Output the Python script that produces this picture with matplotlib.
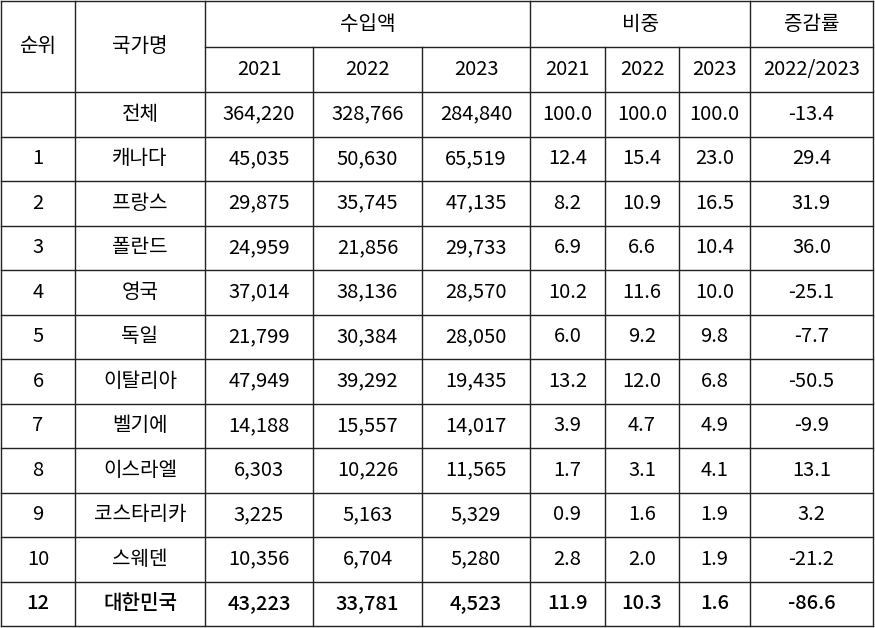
import matplotlib
matplotlib.use("Agg")
import matplotlib.pyplot as plt
from matplotlib import font_manager

names = {f.name for f in font_manager.fontManager.ttflist}
cands = ["Noto Sans CJK KR", "Noto Sans CJK JP", "Noto Sans CJK SC", "Noto Sans CJK TC"]
plt.rcParams["font.family"] = [n for n in cands if n in names] + ["DejaVu Sans"]

ranks = ["", "1", "2", "3", "4", "5", "6", "7", "8", "9", "10", "12"]
countries = ["전체", "캐나다", "프랑스", "폴란드", "영국", "독일", "이탈리아", "벨기에",
             "이스라엘", "코스타리카", "스웨덴", "대한민국"]
imp_2021 = [364220, 45035, 29875, 24959, 37014, 21799, 47949, 14188, 6303, 3225, 10356, 43223]
imp_2022 = [328766, 50630, 35745, 21856, 38136, 30384, 39292, 15557, 10226, 5163, 6704, 33781]
imp_2023 = [284840, 65519, 47135, 29733, 28570, 28050, 19435, 14017, 11565, 5329, 5280, 4523]
share_2021 = [100.0, 12.4, 8.2, 6.9, 10.2, 6.0, 13.2, 3.9, 1.7, 0.9, 2.8, 11.9]
share_2022 = [100.0, 15.4, 10.9, 6.6, 11.6, 9.2, 12.0, 4.7, 3.1, 1.6, 2.0, 10.3]
share_2023 = [100.0, 23.0, 16.5, 10.4, 10.0, 9.8, 6.8, 4.9, 4.1, 1.9, 1.9, 1.6]
growth = [-13.4, 29.4, 31.9, 36.0, -25.1, -7.7, -50.5, -9.9, 13.1, 3.2, -21.2, -86.6]

W, H = 875, 628
xs = [1, 75, 205, 313, 422, 530, 605, 679, 750, 873]
y_head = [1, 47, 92]
row_h = (626 - 92) / 12

fig = plt.figure(figsize=(W / 100, H / 100), dpi=100)
ax = fig.add_axes([0, 0, 1, 1])
ax.set_xlim(0, W)
ax.set_ylim(H, 0)
ax.axis("off")

lc = "#222222"
lw = 1.0
fs = 14.5
ax.plot([xs[0], xs[-1]], [y_head[0]] * 2, color=lc, lw=lw)
ax.plot([xs[2], xs[-1]], [y_head[1]] * 2, color=lc, lw=lw)
for i in range(13):
    y = 92 + i * row_h
    ax.plot([xs[0], xs[-1]], [y, y], color=lc, lw=lw)
for j, x in enumerate(xs):
    if j in (3, 4, 6, 7):
        ax.plot([x, x], [y_head[1], 626], color=lc, lw=lw)
    else:
        ax.plot([x, x], [y_head[0], 626], color=lc, lw=lw)

def cx(j):
    return (xs[j] + xs[j + 1]) / 2

ax.text(cx(0), 46, "순위", ha="center", va="center", fontsize=fs)
ax.text(cx(1), 46, "국가명", ha="center", va="center", fontsize=fs)
ax.text((xs[2] + xs[5]) / 2, 24, "수입액", ha="center", va="center", fontsize=fs)
ax.text((xs[5] + xs[8]) / 2, 24, "비중", ha="center", va="center", fontsize=fs)
ax.text(cx(8), 24, "증감률", ha="center", va="center", fontsize=fs)
for j, lab in zip(range(2, 9), ["2021", "2022", "2023", "2021", "2022", "2023", "2022/2023"]):
    ax.text(cx(j), 69.5, lab, ha="center", va="center", fontsize=fs)

for i in range(12):
    y = 92 + (i + 0.5) * row_h
    bold = "semibold" if i == 11 else "normal"
    vals = [ranks[i], countries[i], f"{imp_2021[i]:,}", f"{imp_2022[i]:,}", f"{imp_2023[i]:,}",
            f"{share_2021[i]:.1f}", f"{share_2022[i]:.1f}", f"{share_2023[i]:.1f}", f"{growth[i]:.1f}"]
    for j, v in enumerate(vals):
        ax.text(cx(j), y, v, ha="center", va="center", fontsize=fs, fontweight=bold)

fig.savefig("out.png", dpi=100)
